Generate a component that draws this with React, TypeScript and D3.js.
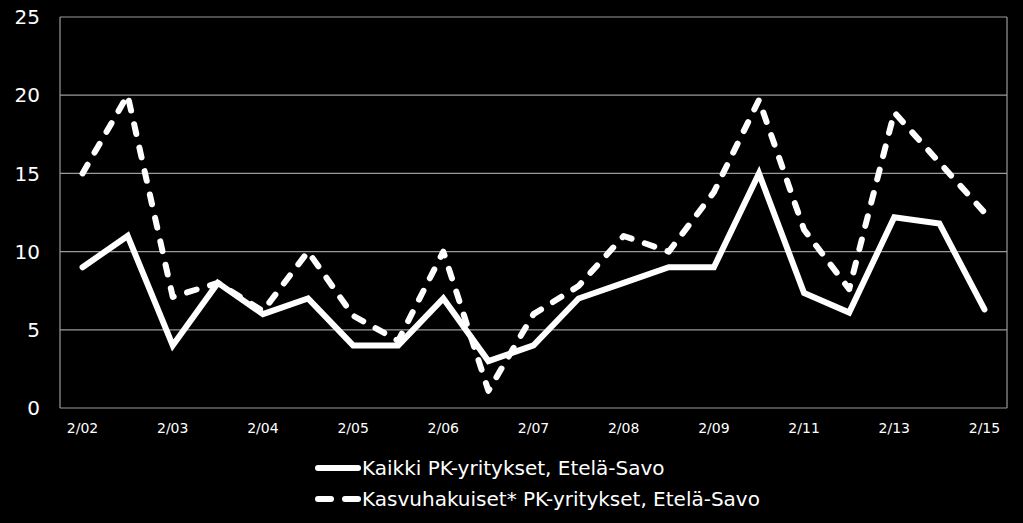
import React from "react";
import * as d3 from "d3";

const categories = [
  "2/02", "8/02", "2/03", "8/03", "2/04", "8/04", "2/05", "8/05", "2/06", "8/06",
  "2/07", "8/07", "2/08", "8/08", "2/09", "2/10", "2/11", "2/12", "2/13", "2/14", "2/15",
];
const shownLabels = ["2/02", "2/03", "2/04", "2/05", "2/06", "2/07", "2/08", "2/09", "2/11", "2/13", "2/15"];
const kaikki = [9, 11, 4, 8, 6, 7, 4, 4, 7, 3, 4, 7, 8, 9, 9, 15, 7.35, 6.1, 12.2, 11.8, 6.3];
const kasvu = [15, 20, 7.1, 8, 6.2, 10, 5.9, 4.3, 10, 1.1, 6, 7.8, 11, 10, 13.8, 19.7, 11.4, 7.6, 18.9, 15.7, 12.5];
const yTicks = [0, 5, 10, 15, 20, 25];
const seriesNames = ["Kaikki PK-yritykset, Etelä-Savo", "Kasvuhakuiset* PK-yritykset, Etelä-Savo"];

const W = 1023;
const H = 523;
const plot = { left: 60, right: 1007, top: 17, bottom: 408 };
const font = "'DejaVu Sans', Verdana, sans-serif";

export default function App() {
  const x = d3.scaleBand<string>().domain(categories).range([plot.left, plot.right]);
  const y = d3.scaleLinear().domain([0, 25]).range([plot.bottom, plot.top]);
  const cx = (c: string) => (x(c) as number) + x.bandwidth() / 2;
  const line = d3
    .line<number>()
    .x((_, i) => cx(categories[i]))
    .y((d) => y(d));

  return (
    <svg
      width={W}
      height={H}
      style={{ position: "absolute", left: 0, top: 0, background: "#000" }}
    >
      <rect x={0} y={0} width={W} height={H} fill="#000" />
      {yTicks.map((t) => (
        <line key={t} x1={plot.left} x2={plot.right} y1={y(t)} y2={y(t)} stroke="#9a9a9a" strokeWidth={1.2} />
      ))}
      <line x1={plot.left} x2={plot.left} y1={plot.top} y2={plot.bottom} stroke="#9a9a9a" strokeWidth={1.2} />
      <line x1={plot.right} x2={plot.right} y1={plot.top} y2={plot.bottom} stroke="#9a9a9a" strokeWidth={1.2} />
      {yTicks.map((t) => (
        <text key={t} x={40} y={y(t)} dy="0.36em" textAnchor="end" fill="#fff" fontFamily={font} fontSize={20}>
          {t}
        </text>
      ))}
      {categories.map((c) =>
        shownLabels.includes(c) ? (
          <text key={c} x={cx(c)} y={428} dy="0.36em" textAnchor="middle" fill="#fff" fontFamily={font} fontSize={14}>
            {c}
          </text>
        ) : null
      )}
      <path d={line(kaikki) as string} fill="none" stroke="#fff" strokeWidth={6} strokeLinejoin="miter" strokeLinecap="round" />
      <path
        d={line(kasvu) as string}
        fill="none"
        stroke="#fff"
        strokeWidth={6}
        strokeDasharray="10,14"
        strokeLinejoin="round"
        strokeLinecap="round"
      />
      <line x1={318} x2={358} y1={468} y2={468} stroke="#fff" strokeWidth={6} strokeLinecap="round" />
      <line x1={318} x2={358} y1={499} y2={499} stroke="#fff" strokeWidth={6} strokeLinecap="round" strokeDasharray="13,14" />
      <text x={362} y={468} dy="0.36em" fill="#fff" fontFamily={font} fontSize={20}>
        {seriesNames[0]}
      </text>
      <text x={362} y={499} dy="0.36em" fill="#fff" fontFamily={font} fontSize={20}>
        {seriesNames[1]}
      </text>
    </svg>
  );
}
